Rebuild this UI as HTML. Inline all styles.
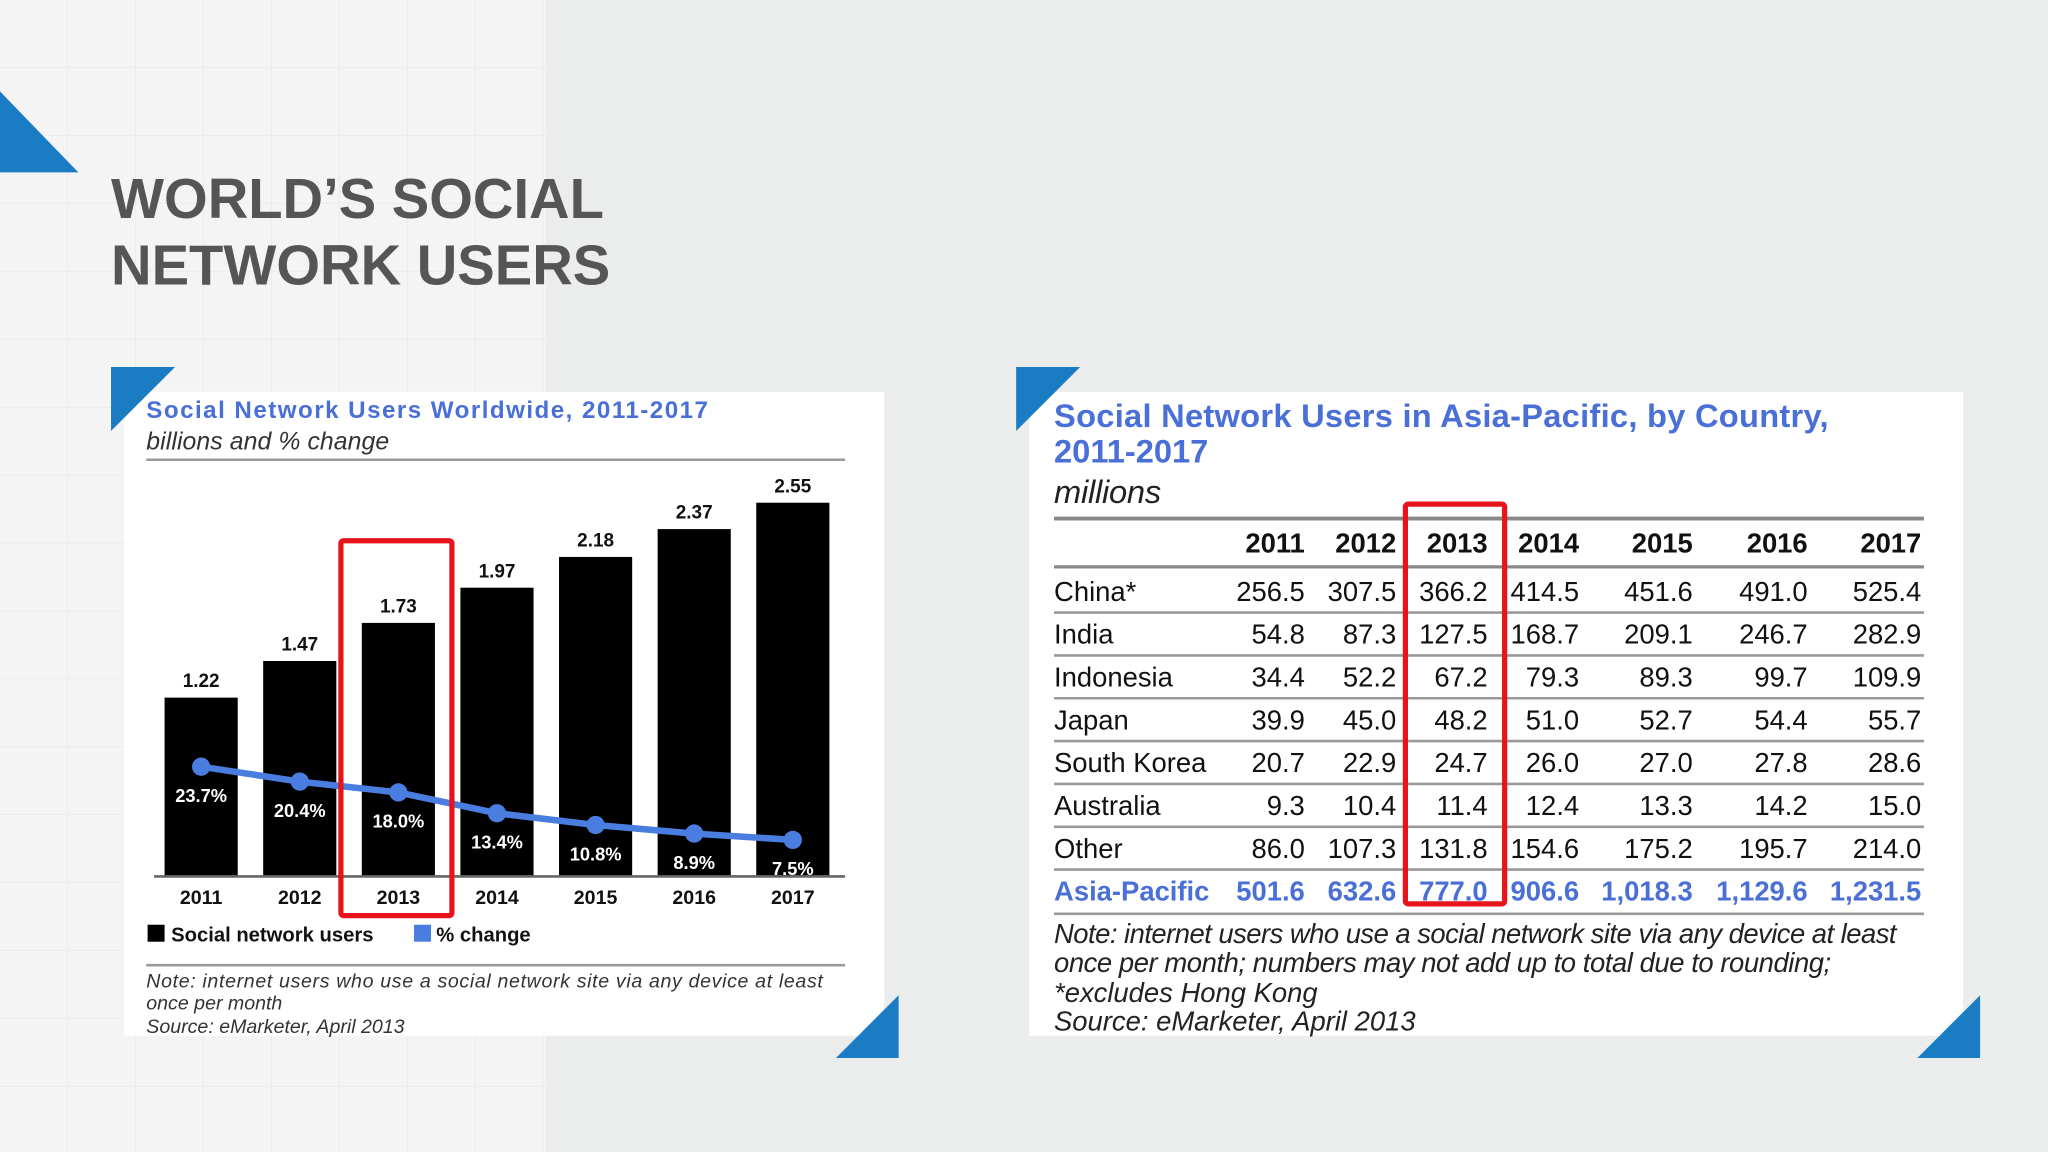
<!DOCTYPE html>
<html><head><meta charset="utf-8"><style>
html,body{margin:0;padding:0;background:#ebecec;}
svg{display:block;font-family:"Liberation Sans",sans-serif;}
</style></head><body>
<svg id="s" width="2048" height="1152" viewBox="0 0 1568 882" xmlns="http://www.w3.org/2000/svg">
<defs>
<pattern id="grid" width="52" height="52" patternUnits="userSpaceOnUse"><path d="M52 0V52H0" fill="none" stroke="#e6e6e6" stroke-width="1"/></pattern>
</defs>
<rect width="1568" height="882" fill="#ebecec"/>
<rect x="0" y="0" width="418" height="882" fill="#f4f4f4"/>
<rect x="0" y="0" width="418" height="882" fill="url(#grid)"/>
<polygon points="0,70 60,132 0,132" fill="#1a7dc4"/>
<text x="85" y="167" font-size="43" font-weight="bold" fill="#555">WORLD’S SOCIAL</text>
<text x="85" y="218" font-size="43" font-weight="bold" fill="#555">NETWORK USERS</text>

<!-- left card -->
<rect x="95" y="300" width="582" height="493" fill="#fff"/>
<polygon points="85,281 134,281 85,330" fill="#1a7dc4"/>
<polygon points="688,762 688,810 640,810" fill="#1a7dc4"/>
<text x="112" y="320" font-size="18.5" font-weight="bold" fill="#4a6fd6" textLength="430">Social Network Users Worldwide, 2011-2017</text>
<text x="112" y="344" font-size="19" font-style="italic" fill="#333" textLength="186">billions and % change</text>
<line x1="112" y1="352" x2="647" y2="352" stroke="#999" stroke-width="2"/>
<g id="bars"></g>
<line x1="118" y1="671" x2="647" y2="671" stroke="#666" stroke-width="2"/>
<rect x="261" y="414" width="85" height="287" fill="none" stroke="#e8141b" stroke-width="4" rx="2"/>
<rect x="113" y="708" width="13" height="13" fill="#000"/>
<text x="131" y="721" font-size="15.5" font-weight="bold" fill="#111">Social network users</text>
<rect x="317" y="708" width="13" height="13" fill="#4a7de0"/>
<text x="334" y="721" font-size="15.5" font-weight="bold" fill="#111">% change</text>
<line x1="112" y1="739" x2="647" y2="739" stroke="#999" stroke-width="2"/>
<text font-size="15" font-style="italic" fill="#333"><tspan x="112" y="756" textLength="518">Note: internet users who use a social network site via any device at least</tspan><tspan x="112" y="773">once per month</tspan><tspan x="112" y="791">Source: eMarketer, April 2013</tspan></text>

<!-- right card -->
<rect x="788" y="300" width="715" height="493" fill="#fff"/>
<polygon points="778,281 827,281 778,330" fill="#1a7dc4"/>
<polygon points="1516,762 1516,810 1468,810" fill="#1a7dc4"/>
<text font-size="25" font-weight="bold" fill="#4a6fd6"><tspan x="807" y="327" textLength="593">Social Network Users in Asia-Pacific, by Country,</tspan><tspan x="807" y="354">2011-2017</tspan></text>
<text x="807" y="385" font-size="25" font-style="italic" fill="#222" textLength="82">millions</text>
<g id="table"></g>
<rect x="1076" y="386" width="76" height="306" fill="none" stroke="#e8141b" stroke-width="4" rx="2"/>
<text font-size="21" font-style="italic" fill="#222"><tspan x="807" y="722" textLength="645">Note: internet users who use a social network site via any device at least</tspan><tspan x="807" y="744" textLength="595">once per month; numbers may not add up to total due to rounding;</tspan><tspan x="807" y="767">*excludes Hong Kong</tspan><tspan x="807" y="789">Source: eMarketer, April 2013</tspan></text>
</svg>
<script>
const NS="http://www.w3.org/2000/svg";
const years=["2011","2012","2013","2014","2015","2016","2017"];
const users=[1.22,1.47,1.73,1.97,2.18,2.37,2.55];
const pctChange=[23.7,20.4,18.0,13.4,10.8,8.9,7.5];
const userLabels=["1.22","1.47","1.73","1.97","2.18","2.37","2.55"];
const pctLabels=["23.7%","20.4%","18.0%","13.4%","10.8%","8.9%","7.5%"];
const countries=["China*","India","Indonesia","Japan","South Korea","Australia","Other"];
const china=["256.5","307.5","366.2","414.5","451.6","491.0","525.4"];
const india=["54.8","87.3","127.5","168.7","209.1","246.7","282.9"];
const indonesia=["34.4","52.2","67.2","79.3","89.3","99.7","109.9"];
const japan=["39.9","45.0","48.2","51.0","52.7","54.4","55.7"];
const southKorea=["20.7","22.9","24.7","26.0","27.0","27.8","28.6"];
const australia=["9.3","10.4","11.4","12.4","13.3","14.2","15.0"];
const other=["86.0","107.3","131.8","154.6","175.2","195.7","214.0"];
const asiaPacific=["501.6","632.6","777.0","906.6","1,018.3","1,129.6","1,231.5"];
const rows=[china,india,indonesia,japan,southKorea,australia,other];

function mk(tag,attrs,parent,txt){const e=document.createElementNS(NS,tag);for(const k in attrs)e.setAttribute(k,attrs[k]);if(txt!==undefined)e.textContent=txt;parent.appendChild(e);return e;}
const xBand=i=>154+i*75.5;
const yBar=v=>671-v*112.2;
const yPct=v=>669-v*3.46;
const bars=document.getElementById('bars');
users.forEach((v,i)=>{
  const r=mk('rect',{x:xBand(i)-28,y:yBar(v),width:56,height:671-yBar(v),fill:'#000'},bars);
  
  
  const t=mk('text',{x:xBand(i),y:yBar(v)-8,'font-size':14.5,'font-weight':'bold','text-anchor':'middle',fill:'#111'},bars,userLabels[i]);
  
  
  const xl=mk('text',{x:xBand(i),y:692,'font-size':15,'font-weight':'bold','text-anchor':'middle',fill:'#111'},bars,years[i]);
  
  
});
const pts=pctChange.map((v,i)=>xBand(i)+','+yPct(v)).join(' ');
const pl=mk('polyline',{points:pts,fill:'none',stroke:'#4a7de0','stroke-width':5},bars);


pctChange.forEach((v,i)=>{
  const c=mk('circle',{cx:xBand(i),cy:yPct(v),r:7,fill:'#4a7de0'},bars);
  
  
  const t=mk('text',{x:xBand(i),y:yPct(v)+27,'font-size':14,'font-weight':'bold','text-anchor':'middle',fill:'#fff'},bars,pctLabels[i]);
  
  
});

const tbl=document.getElementById('table');
const colR=[999,1069,1139,1209,1296,1384,1471];
mk('line',{x1:807,y1:397,x2:1473,y2:397,stroke:'#888','stroke-width':3},tbl);
years.forEach((y,i)=>{
  const t=mk('text',{x:colR[i],y:423,'font-size':21,'font-weight':'bold','text-anchor':'end',fill:'#111'},tbl,y);
  
  
});
mk('line',{x1:807,y1:434,x2:1473,y2:434,stroke:'#888','stroke-width':2.5},tbl);
rows.forEach((r,ri)=>{
  const yb=460+ri*32.8;
  const lab=mk('text',{x:807,y:yb,'font-size':21,fill:'#111'},tbl,countries[ri]);
  
  
  r.forEach((v,ci)=>{
    const t=mk('text',{x:colR[ci],y:yb,'font-size':21,'text-anchor':'end',fill:'#111'},tbl,v);
    
    
  });
  mk('line',{x1:807,y1:yb+9,x2:1473,y2:yb+9,stroke:'#999','stroke-width':2},tbl);
});
const yAP=460+7*32.8;
const apl=mk('text',{x:807,y:yAP,'font-size':21,'font-weight':'bold',fill:'#4a6fd6'},tbl,'Asia-Pacific');


asiaPacific.forEach((v,ci)=>{
  const t=mk('text',{x:colR[ci],y:yAP,'font-size':21,'font-weight':'bold','text-anchor':'end',fill:'#4a6fd6'},tbl,v);
  
  
});
mk('line',{x1:807,y1:yAP+10,x2:1473,y2:yAP+10,stroke:'#999','stroke-width':2},tbl);
</script>
</body></html>
